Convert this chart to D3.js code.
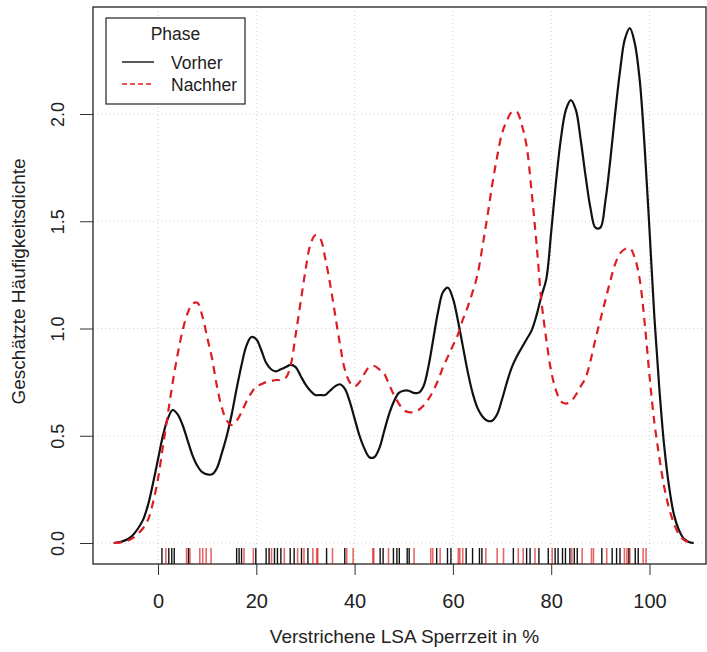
<!DOCTYPE html>
<html><head><meta charset="utf-8">
<script src="https://cdn.jsdelivr.net/npm/d3@7"></script>
<style>body{margin:0;background:#fff}svg{display:block}text{font-family:"Liberation Sans",Arial,sans-serif;fill:#222}</style>
</head><body><svg id="c" width="707" height="652"></svg>
<script>
// ---- data ----
const densX = [-9,-8,-7,-6,-5,-4,-3,-2,-1,0,1,2,3,4,5,6,7,8,9,10,11,12,13,14,15,16,17,18,19,20,21,22,23,24,25,26,27,28,29,30,31,32,33,34,35,36,37,38,39,40,41,42,43,44,45,46,47,48,49,50,51,52,53,54,55,56,57,58,59,60,61,62,63,64,65,66,67,68,69,70,71,72,73,74,75,76,77,78,79,80,81,82,83,84,85,86,87,88,89,90,91,92,93,94,95,96,97,98,99,100,101,102,103,104,105,106,107,108,109];
const vorher = [0,0.003,0.01,0.02,0.04,0.07,0.11,0.18,0.28,0.39,0.50,0.58,0.62,0.60,0.55,0.48,0.41,0.36,0.33,0.32,0.32,0.35,0.42,0.50,0.60,0.72,0.83,0.92,0.96,0.95,0.90,0.84,0.81,0.80,0.81,0.82,0.83,0.82,0.78,0.74,0.71,0.69,0.69,0.69,0.71,0.73,0.74,0.72,0.66,0.58,0.50,0.44,0.40,0.40,0.44,0.52,0.60,0.66,0.70,0.71,0.71,0.70,0.70,0.73,0.82,0.95,1.08,1.17,1.19,1.14,1.04,0.92,0.80,0.70,0.63,0.59,0.57,0.57,0.60,0.67,0.75,0.82,0.87,0.91,0.95,0.99,1.06,1.15,1.23,1.45,1.69,1.89,2.02,2.065,2.02,1.88,1.71,1.56,1.47,1.47,1.59,1.78,2.00,2.20,2.35,2.40,2.33,2.16,1.85,1.46,1.05,0.72,0.45,0.26,0.13,0.06,0.02,0.005,0];
const nachher = [0,0.002,0.006,0.013,0.025,0.045,0.07,0.11,0.19,0.30,0.45,0.60,0.75,0.88,0.99,1.07,1.115,1.12,1.06,0.96,0.86,0.73,0.63,0.57,0.55,0.57,0.61,0.66,0.70,0.73,0.74,0.75,0.755,0.76,0.76,0.77,0.83,0.97,1.12,1.27,1.39,1.435,1.42,1.33,1.21,1.07,0.93,0.81,0.75,0.73,0.75,0.79,0.82,0.825,0.81,0.79,0.74,0.69,0.65,0.62,0.61,0.61,0.62,0.64,0.67,0.71,0.76,0.82,0.87,0.92,0.97,1.04,1.10,1.17,1.25,1.38,1.52,1.67,1.80,1.91,1.97,2.01,2.01,1.95,1.85,1.64,1.40,1.13,0.95,0.80,0.71,0.66,0.65,0.66,0.69,0.73,0.77,0.85,0.95,1.04,1.13,1.22,1.30,1.35,1.37,1.375,1.33,1.23,1.03,0.78,0.56,0.40,0.26,0.16,0.09,0.04,0.015,0.004,0];
const rugVorher = [0.8,2.2,2.8,3.3,6.2,16.0,16.5,17.0,19.9,22.0,22.6,23.7,24.3,25.0,26.9,27.7,29.2,30.5,34.3,38.0,45.2,45.8,47.9,48.6,49.1,50.7,51.1,56.7,58.9,59.6,62.7,64.0,65.4,65.9,72.3,75.0,75.7,77.5,79.4,80.8,81.4,82.3,82.9,83.8,84.7,85.3,90.3,92.4,93.3,94.0,95.8,97.1,97.7];
const rugNachher = [1.6,5.8,6.5,8.5,9.1,9.8,10.8,17.5,19.4,23.1,25.7,28.4,29.7,31.5,32.3,32.5,35.5,38.4,39.7,43.7,43.9,46.9,52.1,55.5,55.9,57.4,61.1,61.4,62.0,66.7,69.0,70.3,73.3,74.3,76.7,80.2,84.2,86.3,88.2,88.6,91.3,94.9,95.4,96.0,98.7,99.3];
const xTicks = [0,20,40,60,80,100];
const yTicks = [0,0.5,1.0,1.5,2.0];
const legendTitle = "Phase";
const seriesNames = ["Vorher","Nachher"];
const xLabel = "Verstrichene LSA Sperrzeit in %";
const yLabel = "Geschätzte Häufigkeitsdichte";

// ---- layout ----
const box = {l:93, r:706, t:7, b:564};
const svg = d3.select("#c");
const x = d3.scaleLinear().domain([0,100]).range([158,649.5]);
const y = d3.scaleLinear().domain([0,2]).range([543,114]);

// grid
const grid = svg.append("g").attr("stroke","#cfcfcf").attr("stroke-dasharray","1,3").attr("stroke-width",1);
xTicks.forEach(t=>grid.append("line").attr("x1",x(t)).attr("x2",x(t)).attr("y1",box.t).attr("y2",box.b));
yTicks.forEach(t=>grid.append("line").attr("x1",box.l).attr("x2",box.r).attr("y1",y(t)).attr("y2",y(t)));

// axes
const xAxis = d3.axisBottom(x).tickValues(xTicks).tickSize(11).tickPadding(19).tickFormat(d3.format("d"));
const gx = svg.append("g").attr("transform",`translate(0,${box.b})`).call(xAxis);
gx.select(".domain").remove();
gx.selectAll("text").attr("font-size",20).attr("fill","#222").style("font-family","Liberation Sans, Arial");
gx.selectAll("line").attr("stroke","#333");
const yAxis = d3.axisLeft(y).tickValues(yTicks).tickSize(13).tickFormat(d3.format(".1f"));
const gy = svg.append("g").attr("transform",`translate(${box.l},0)`).call(yAxis);
gy.select(".domain").remove();
gy.selectAll("line").attr("stroke","#333");
gy.selectAll(".tick text").attr("font-size",18).attr("fill","#222").style("font-family","Liberation Sans, Arial")
  .attr("text-anchor","middle").attr("x",-35).attr("y",0).attr("dy","0.35em")
  .attr("transform","rotate(-90,-35,0)");

// box
svg.append("rect").attr("x",box.l).attr("y",box.t).attr("width",box.r-box.l).attr("height",box.b-box.t)
  .attr("fill","none").attr("stroke","#222").attr("stroke-width",1.3);

// rug
const rugLen = 16;
svg.append("g").selectAll("line").data(rugVorher).join("line")
  .attr("x1",d=>x(d)).attr("x2",d=>x(d)).attr("y1",box.b).attr("y2",box.b-rugLen)
  .attr("stroke","#111").attr("stroke-width",1.4);
svg.append("g").selectAll("line").data(rugNachher).join("line")
  .attr("x1",d=>x(d)).attr("x2",d=>x(d)).attr("y1",box.b).attr("y2",box.b-rugLen)
  .attr("stroke","rgba(215,0,0,0.6)").attr("stroke-width",1.6);

// curves
const line = d3.line().curve(d3.curveCatmullRom.alpha(0.5));
svg.append("path").attr("d",line(densX.map((d,i)=>[x(d),y(vorher[i])])))
  .attr("fill","none").attr("stroke","#111").attr("stroke-width",2.2);
svg.append("path").attr("d",line(densX.map((d,i)=>[x(d),y(nachher[i])])))
  .attr("fill","none").attr("stroke","#dd1c24").attr("stroke-width",2.2).attr("stroke-dasharray","8,6");

// labels
svg.append("text").attr("x",(box.l+box.r)/2+5).attr("y",643).attr("text-anchor","middle").attr("font-size",19).text(xLabel);
svg.append("text").attr("transform",`translate(25,${(box.t+box.b)/2-4}) rotate(-90)`).attr("text-anchor","middle").attr("font-size",19).text(yLabel);

// legend
const lg = svg.append("g");
lg.append("rect").attr("x",106).attr("y",18).attr("width",139).attr("height",86).attr("fill","#fff").attr("stroke","#222").attr("stroke-width",1.2);
lg.append("text").attr("x",175.5).attr("y",40).attr("text-anchor","middle").attr("font-size",17.5).text(legendTitle);
lg.append("line").attr("x1",122).attr("x2",154).attr("y1",62).attr("y2",62).attr("stroke","#111").attr("stroke-width",1.4);
lg.append("line").attr("x1",122).attr("x2",154).attr("y1",84).attr("y2",84).attr("stroke","#dd1c24").attr("stroke-width",1.4).attr("stroke-dasharray","5,3");
lg.append("text").attr("x",171).attr("y",69).attr("font-size",17.5).text(seriesNames[0]);
lg.append("text").attr("x",171).attr("y",91).attr("font-size",17.5).text(seriesNames[1]);
</script></body></html>
